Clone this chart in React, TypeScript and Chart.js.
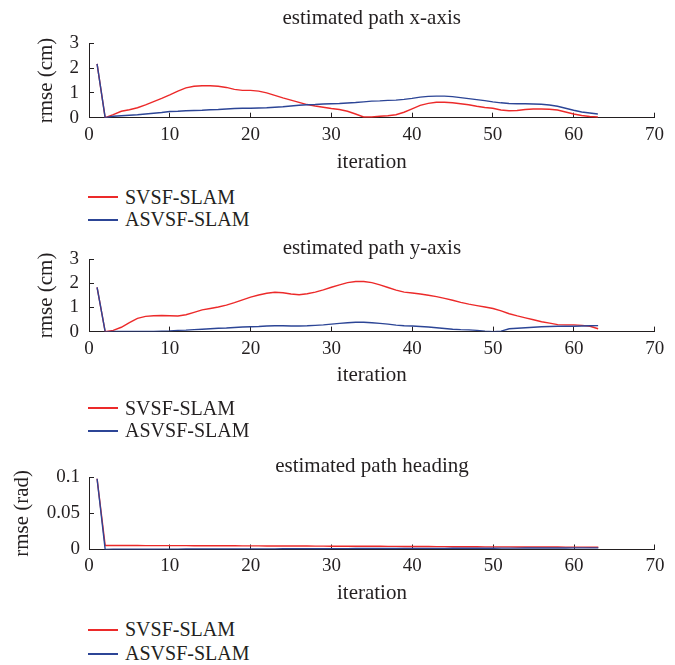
import React, { useEffect, useRef } from "react";
import { Chart, registerables } from "chart.js";

Chart.register(...registerables);

const FONT = "'Liberation Serif', 'Times New Roman', Times, serif";
const INK = "#231f20";
const RED = "#ec2a2a";
const BLUE = "#2c4596";

const iterations = [
  1, 2, 3, 4, 5, 6, 7, 8, 9, 10,
  11, 12, 13, 14, 15, 16, 17, 18, 19, 20,
  21, 22, 23, 24, 25, 26, 27, 28, 29, 30,
  31, 32, 33, 34, 35, 36, 37, 38, 39, 40,
  41, 42, 43, 44, 45, 46, 47, 48, 49, 50,
  51, 52, 53, 54, 55, 56, 57, 58, 59, 60,
  61, 62, 63,
];

const xSvsf = [
  2.17, 0, 0.12, 0.26, 0.32, 0.40, 0.52, 0.65, 0.78, 0.92,
  1.07, 1.20, 1.27, 1.29, 1.29, 1.27, 1.22, 1.14, 1.10, 1.10,
  1.07, 1.00, 0.90, 0.80, 0.71, 0.62, 0.53, 0.47, 0.42, 0.37,
  0.33, 0.26, 0.15, 0.03, 0.03, 0.06, 0.08, 0.12, 0.22, 0.36,
  0.50, 0.58, 0.62, 0.62, 0.60, 0.56, 0.52, 0.46, 0.41, 0.38,
  0.31, 0.28, 0.29, 0.33, 0.35, 0.35, 0.34, 0.31, 0.23, 0.15,
  0.09, 0.05, 0.03,
];

const xAsvsf = [
  2.17, 0, 0.06, 0.08, 0.10, 0.12, 0.15, 0.18, 0.21, 0.25,
  0.26, 0.28, 0.29, 0.30, 0.32, 0.33, 0.35, 0.37, 0.38, 0.38,
  0.39, 0.40, 0.42, 0.44, 0.47, 0.50, 0.52, 0.53, 0.55, 0.56,
  0.57, 0.59, 0.61, 0.64, 0.67, 0.68, 0.70, 0.71, 0.74, 0.78,
  0.83, 0.86, 0.87, 0.87, 0.85, 0.81, 0.77, 0.73, 0.69, 0.64,
  0.60, 0.57, 0.56, 0.56, 0.55, 0.54, 0.51, 0.46, 0.38, 0.30,
  0.23, 0.19, 0.15,
];

const ySvsf = [
  1.83, 0, 0.05, 0.18, 0.37, 0.55, 0.63, 0.66, 0.67, 0.66,
  0.65, 0.70, 0.80, 0.90, 0.96, 1.02, 1.10, 1.20, 1.32, 1.43,
  1.52, 1.59, 1.63, 1.61, 1.56, 1.53, 1.57, 1.64, 1.73, 1.84,
  1.94, 2.03, 2.08, 2.08, 2.03, 1.94, 1.83, 1.72, 1.64, 1.60,
  1.56, 1.51, 1.45, 1.38, 1.30, 1.21, 1.14, 1.08, 1.02, 0.96,
  0.86, 0.74, 0.65, 0.57, 0.49, 0.41, 0.35, 0.29, 0.28, 0.28,
  0.26, 0.22, 0.12,
];

const yAsvsf = [
  1.83, 0, 0.01, 0.01, 0.01, 0.01, 0.01, 0.01, 0.02, 0.03,
  0.05, 0.06, 0.08, 0.10, 0.12, 0.14, 0.15, 0.17, 0.19, 0.20,
  0.21, 0.23, 0.24, 0.24, 0.23, 0.23, 0.24, 0.26, 0.28, 0.31,
  0.34, 0.37, 0.39, 0.39, 0.37, 0.34, 0.31, 0.27, 0.24, 0.23,
  0.21, 0.19, 0.16, 0.13, 0.10, 0.08, 0.07, 0.05, 0.02, 0.00,
  0.02, 0.12, 0.14, 0.16, 0.18, 0.20, 0.21, 0.22, 0.22, 0.22,
  0.23, 0.24, 0.25,
];

const hSvsf = [
  0.098, 0.0056, 0.0056, 0.0055, 0.0055, 0.0055, 0.0054, 0.0054, 0.0054, 0.0053,
  0.0053, 0.0053, 0.0052, 0.0052, 0.0052, 0.0051, 0.0051, 0.0051, 0.0050, 0.0050,
  0.0050, 0.0049, 0.0049, 0.0049, 0.0048, 0.0048, 0.0048, 0.0047, 0.0047, 0.0046,
  0.0046, 0.0046, 0.0045, 0.0045, 0.0044, 0.0044, 0.0043, 0.0043, 0.0042, 0.0042,
  0.0041, 0.0041, 0.0040, 0.0040, 0.0039, 0.0039, 0.0038, 0.0038, 0.0037, 0.0037,
  0.0036, 0.0036, 0.0035, 0.0035, 0.0035, 0.0034, 0.0034, 0.0034, 0.0033, 0.0033,
  0.0033, 0.0032, 0.0032,
];

const hAsvsf = [
  0.098, 0.0002, 0.0003, 0.0003, 0.0003, 0.0004, 0.0004, 0.0004, 0.0005, 0.0005,
  0.0005, 0.0006, 0.0006, 0.0006, 0.0007, 0.0007, 0.0007, 0.0008, 0.0008, 0.0008,
  0.0009, 0.0009, 0.0009, 0.0010, 0.0010, 0.0010, 0.0011, 0.0011, 0.0011, 0.0012,
  0.0012, 0.0012, 0.0013, 0.0013, 0.0013, 0.0014, 0.0014, 0.0014, 0.0015, 0.0015,
  0.0015, 0.0016, 0.0016, 0.0016, 0.0017, 0.0017, 0.0017, 0.0018, 0.0018, 0.0018,
  0.0019, 0.0019, 0.0019, 0.0020, 0.0020, 0.0020, 0.0021, 0.0021, 0.0021, 0.0022,
  0.0022, 0.0022, 0.0023,
];

const xTicks = [0, 10, 20, 30, 40, 50, 60, 70];
const cmTicks = [0, 1, 2, 3];
const radTicks = [0, 0.05, 0.1];

const seriesLabels = ["SVSF-SLAM", "ASVSF-SLAM"];
const titles = ["estimated path x-axis", "estimated path y-axis", "estimated path heading"];
const yLabels = ["rmse (cm)", "rmse (cm)", "rmse (rad)"];
const xLabel = "iteration";

type Panel = {
  title: string;
  yLabel: string;
  svsf: number[];
  asvsf: number[];
  yTicks: number[];
  canvasTop: number;
  canvasH: number;
  areaTop: number;
  areaBottom: number;
  titleMid: number;
  tickMid: number;
  xTitleMid: number;
  yTitleX: number;
  yTickRight: number;
  legendY: number[];
};

const panels: Panel[] = [
  {
    title: titles[0], yLabel: yLabels[0], svsf: xSvsf, asvsf: xAsvsf, yTicks: cmTicks,
    canvasTop: 0, canvasH: 182, areaTop: 43.3, areaBottom: 117.7,
    titleMid: 18.6, tickMid: 135.2, xTitleMid: 162, yTitleX: 46, yTickRight: 79,
    legendY: [197.3, 220],
  },
  {
    title: titles[1], yLabel: yLabels[1], svsf: ySvsf, asvsf: yAsvsf, yTicks: cmTicks,
    canvasTop: 220, canvasH: 182, areaTop: 259.3, areaBottom: 331.6,
    titleMid: 248.9, tickMid: 348.8, xTitleMid: 375, yTitleX: 46, yTickRight: 79,
    legendY: [408.3, 430.8],
  },
  {
    title: titles[2], yLabel: yLabels[2], svsf: hSvsf, asvsf: hAsvsf, yTicks: radTicks,
    canvasTop: 440, canvasH: 170, areaTop: 477.3, areaBottom: 549.5,
    titleMid: 466.2, tickMid: 566.5, xTitleMid: 593, yTitleX: 22, yTickRight: 80,
    legendY: [630, 653.5],
  },
];

const W = 675;
const AREA_LEFT = 89;
const AREA_RIGHT = 660;
const TICK_LEN = 5;
const TITLE_SIZE = 21;
const TITLE_LH = 0.9;
const AXIS_TITLE_SIZE = 21;
const AXIS_TITLE_LH = 1.2;
const TICK_SIZE = 19;
const TICK_LH = 1.2;

function makeChart(canvas: HTMLCanvasElement, p: Panel) {
  const aTop = p.areaTop - p.canvasTop;
  const aBottom = p.areaBottom - p.canvasTop;
  const titleMid = p.titleMid - p.canvasTop;
  const tickMid = p.tickMid - p.canvasTop;
  const xTitleMid = p.xTitleMid - p.canvasTop;
  const tLH = TITLE_SIZE * TITLE_LH;
  const aLH = AXIS_TITLE_SIZE * AXIS_TITLE_LH;
  const kLH = TICK_SIZE * TICK_LH;
  const tickFont = { family: FONT, size: TICK_SIZE, lineHeight: TICK_LH, weight: "normal" as const };
  const axisTitleFont = { family: FONT, size: AXIS_TITLE_SIZE, lineHeight: AXIS_TITLE_LH, weight: "normal" as const };
  const grid = {
    display: true,
    drawOnChartArea: false,
    drawTicks: true,
    tickLength: -TICK_LEN,
    color: INK,
    lineWidth: 1,
  };
  const border = { display: true, color: INK, width: 1 };

  return new Chart(canvas, {
    type: "line",
    data: {
      datasets: [
        {
          label: seriesLabels[0],
          data: iterations.map((x, i) => ({ x, y: p.svsf[i] })),
          borderColor: RED,
          backgroundColor: RED,
          borderWidth: 1.4,
          pointRadius: 0,
          tension: 0,
          order: 1,
        },
        {
          label: seriesLabels[1],
          data: iterations.map((x, i) => ({ x, y: p.asvsf[i] })),
          borderColor: BLUE,
          backgroundColor: BLUE,
          borderWidth: 1.4,
          pointRadius: 0,
          tension: 0,
          order: 0,
        },
      ],
    },
    options: {
      responsive: false,
      animation: false,
      devicePixelRatio: 1,
      events: [],
      layout: { padding: { left: 0, right: W - AREA_RIGHT, top: 0, bottom: 0 } },
      plugins: {
        legend: { display: false },
        tooltip: { enabled: false },
        title: {
          display: true,
          text: p.title,
          fullSize: false,
          color: INK,
          font: { family: FONT, size: TITLE_SIZE, lineHeight: TITLE_LH, weight: "normal" },
          padding: { top: titleMid - tLH / 2, bottom: aTop - titleMid - tLH / 2 },
        },
      },
      scales: {
        x: {
          type: "linear",
          min: 0,
          max: 70,
          afterBuildTicks: (s: any) => {
            s.ticks = xTicks.map((v) => ({ value: v }));
          },
          afterFit: (s: any) => {
            s.height = p.canvasH - aBottom;
          },
          ticks: {
            padding: tickMid - aBottom - kLH / 2 + TICK_LEN,
            color: INK,
            font: tickFont,
            maxRotation: 0,
            autoSkip: false,
          },
          grid,
          border,
          title: {
            display: true,
            text: xLabel,
            color: INK,
            font: axisTitleFont,
            padding: { top: 0, bottom: p.canvasH - xTitleMid - aLH / 2 },
          },
        },
        y: {
          type: "linear",
          min: p.yTicks[0],
          max: p.yTicks[p.yTicks.length - 1],
          afterBuildTicks: (s: any) => {
            s.ticks = p.yTicks.map((v) => ({ value: v }));
          },
          afterFit: (s: any) => {
            s.width = AREA_LEFT;
          },
          ticks: {
            padding: AREA_LEFT - p.yTickRight + TICK_LEN,
            color: INK,
            font: tickFont,
            autoSkip: false,
            callback: (v: any) => String(v),
          },
          grid,
          border,
          title: {
            display: true,
            text: p.yLabel,
            color: INK,
            font: axisTitleFont,
            padding: { top: p.yTitleX - aLH / 2, bottom: 0 },
          },
        },
      },
    },
  } as any);
}

function PanelChart({ p }: { p: Panel }) {
  const ref = useRef<HTMLCanvasElement | null>(null);
  useEffect(() => {
    if (!ref.current) return;
    const chart = makeChart(ref.current, p);
    return () => chart.destroy();
  }, [p]);
  return (
    <canvas
      ref={ref}
      width={W}
      height={p.canvasH}
      style={{ position: "absolute", left: 0, top: p.canvasTop, width: W, height: p.canvasH, display: "block" }}
    />
  );
}

function Legend({ p }: { p: Panel }) {
  const colors = [RED, BLUE];
  return (
    <>
      {seriesLabels.map((label, i) => (
        <div
          key={label}
          style={{ position: "absolute", left: 0, top: p.legendY[i] - 10.75, width: 300, height: 20 }}
        >
          <span
            style={{
              position: "absolute",
              left: 88,
              top: 9.75,
              width: 30,
              height: 2,
              background: colors[i],
            }}
          />
          <span
            style={{
              position: "absolute",
              left: 125,
              top: 0,
              lineHeight: "20px",
              fontSize: 20,
              fontFamily: FONT,
              color: INK,
              whiteSpace: "nowrap",
            }}
          >
            {label}
          </span>
        </div>
      ))}
    </>
  );
}

export default function App() {
  return (
    <div style={{ position: "absolute", left: 0, top: 0, width: W, height: 665, background: "#fff", overflow: "hidden" }}>
      {panels.map((p, i) => (
        <React.Fragment key={i}>
          <PanelChart p={p} />
          <Legend p={p} />
        </React.Fragment>
      ))}
    </div>
  );
}
